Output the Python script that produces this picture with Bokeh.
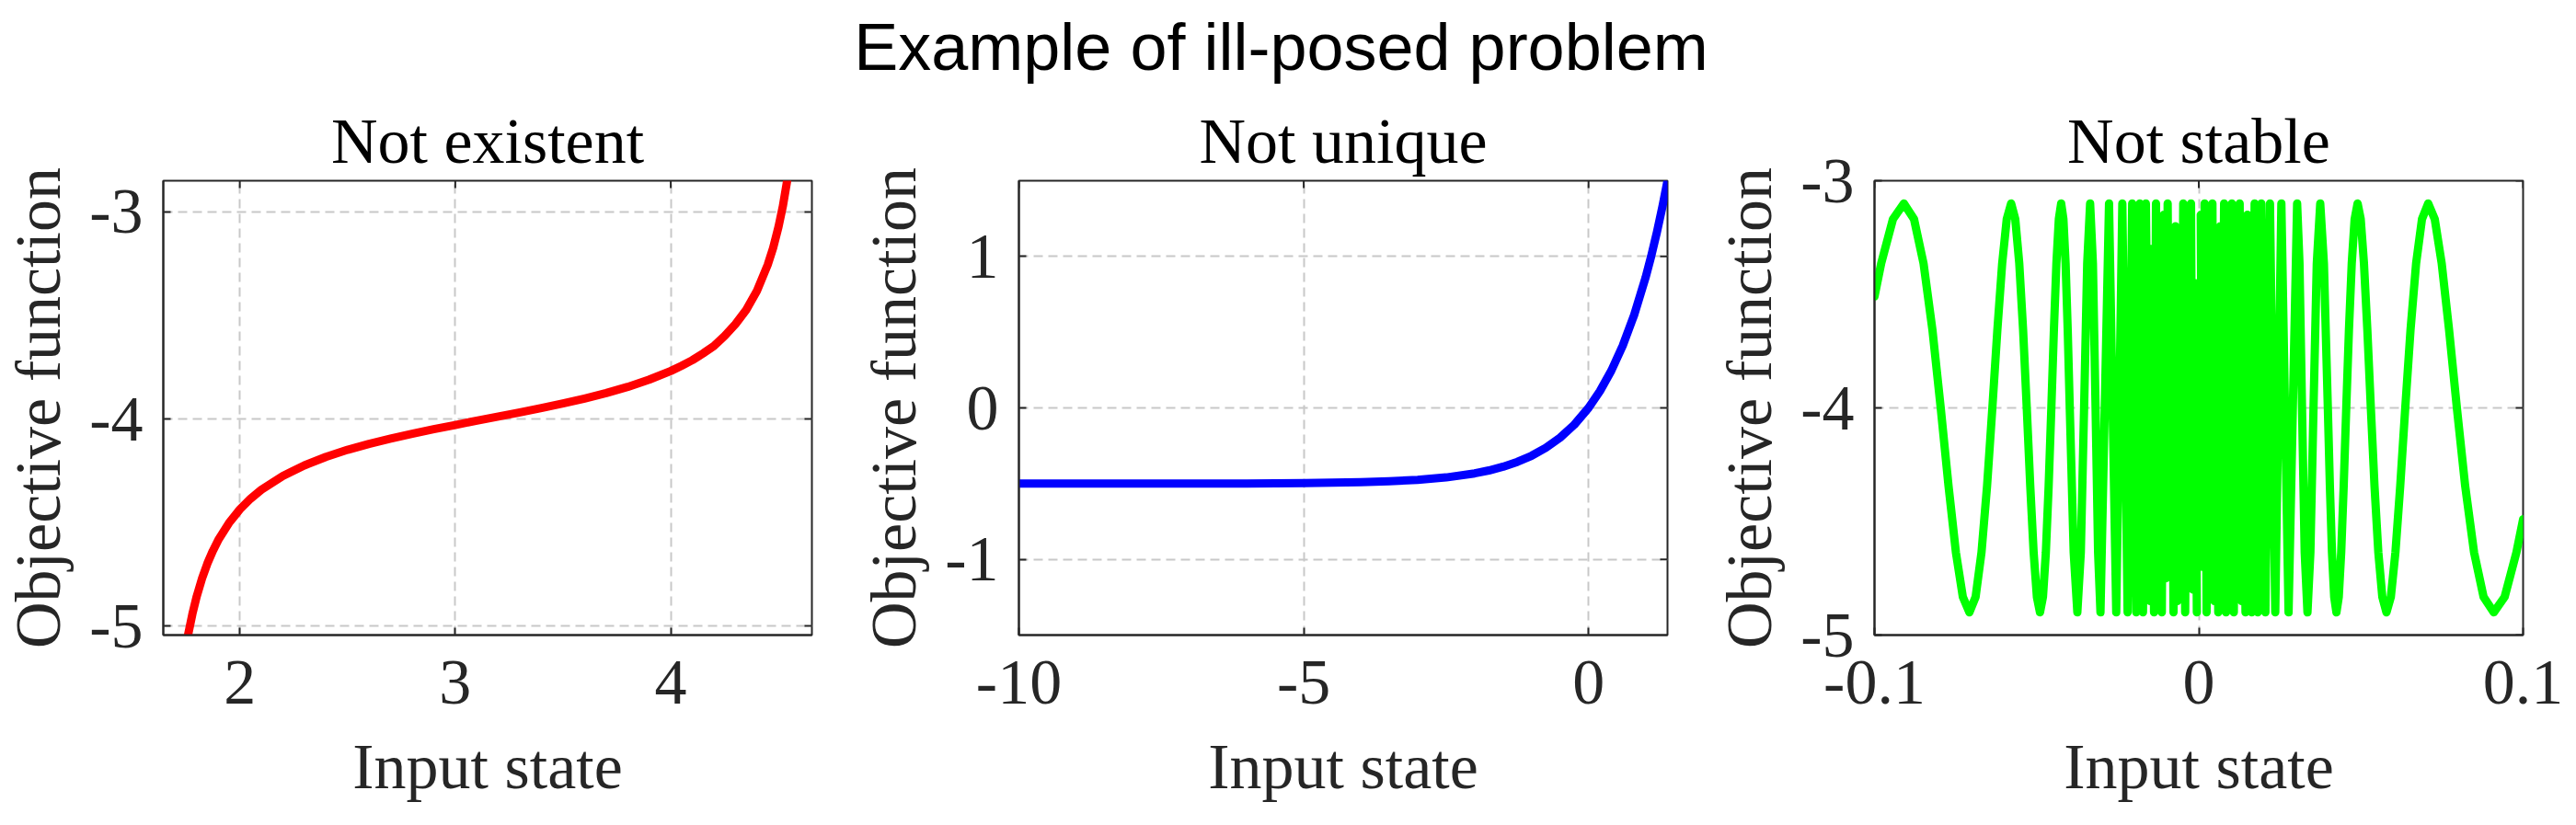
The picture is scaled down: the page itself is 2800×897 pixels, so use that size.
import math
from bokeh.plotting import figure
from bokeh.models import Range1d, FixedTicker, Spacer
from bokeh.layouts import column, row
from bokeh.embed import file_html
from bokeh.resources import INLINE
from bokeh.core.validation import silence
from bokeh.core.validation.warnings import MISSING_RENDERERS

silence(MISSING_RENDERERS, True)

NAN = float("nan")

suptitle = "Example of ill-posed problem"
titles = ["Not existent", "Not unique", "Not stable"]
x_label = "Input state"
y_label = "Objective function"

# Panel 1 (red)
red_x = [1.76, 1.78, 1.80, 1.825, 1.85, 1.875, 1.90, 1.95, 2.0, 2.05, 2.1, 2.2, 2.3, 2.4,
         2.5, 2.6, 2.7, 2.8, 2.9, 3.0, 3.1, 3.2, 3.3, 3.4, 3.5, 3.6, 3.7, 3.8, 3.9, 4.0,
         4.05, 4.1, 4.15, 4.2, 4.25, 4.3, 4.35, 4.4, 4.45, 4.475, 4.5, 4.52, 4.54]
red_y = [-5.043, -4.942, -4.857, -4.770, -4.697, -4.637, -4.585, -4.502, -4.437, -4.385,
         -4.342, -4.275, -4.224, -4.183, -4.149, -4.120, -4.095, -4.071, -4.049, -4.029,
         -4.008, -3.988, -3.968, -3.947, -3.925, -3.901, -3.875, -3.845, -3.810, -3.768,
         -3.743, -3.716, -3.683, -3.648, -3.599, -3.542, -3.473, -3.381, -3.255, -3.174,
         -3.072, -2.973, -2.850]

# Panel 2 (blue)
blue_x = [-10, -9, -8, -7, -6, -5, -4, -3.5, -3, -2.5, -2, -1.75, -1.5, -1.25, -1,
          -0.75, -0.5, -0.25, 0, 0.2, 0.4, 0.6, 0.8, 1.0, 1.1, 1.2, 1.3, 1.386]
blue_y = [-0.500, -0.4999, -0.4998, -0.4995, -0.4988, -0.4966, -0.4908, -0.4849, -0.4751,
          -0.4590, -0.4323, -0.4131, -0.3884, -0.3567, -0.3161, -0.2638, -0.1967, -0.1106,
          0.0, 0.1107, 0.2459, 0.4111, 0.6128, 0.8591, 1.0021, 1.1601, 1.3346, 1.4994]

# Panel 3 (green), read left to right
green_x_left = [-0.1, -0.09794, -0.09431, -0.09095, -0.08781, -0.08488, -0.08214, -0.07958,
                -0.07717, -0.07490, -0.07276, -0.07074, -0.06882, -0.06701, -0.06529,
                -0.06366, -0.06211, -0.06063, -0.05922, -0.05787, -0.05659, -0.05536,
                -0.05418, -0.05305, -0.05197, -0.05093, -0.04993, -0.04897, -0.04805,
                -0.04716, -0.04630, -0.04547, -0.04468, -0.04391, -0.04316, -0.04244,
                -0.04175, -0.04107, -0.04042, -0.03979, -0.03858, -0.03745, -0.03638,
                -0.03537, -0.03441, -0.03351, -0.03265, -0.03183, -0.03105, -0.03032,
                -0.02768, -0.02546, -0.02358, -0.02195, -0.02054, -0.01929, -0.01819,
                -0.01721, -0.01632]
green_y_left = [-3.510, -3.364, -3.169, -3.100, -3.169, -3.364, -3.656, -4.000, -4.344,
                -4.636, -4.832, -4.900, -4.832, -4.636, -4.344, -4.000, -3.656, -3.364,
                -3.169, -3.100, -3.169, -3.364, -3.656, -4.000, -4.344, -4.636, -4.832,
                -4.900, -4.832, -4.636, -4.344, -4.000, -3.656, -3.364, -3.169, -3.100,
                -3.169, -3.364, -3.656, -4.000, -4.636, -4.900, -4.636, -4.000, -3.364,
                -3.100, -3.364, -4.000, -4.636, -4.900, -3.100, -4.900, -3.100, -4.900,
                -3.100, -4.900, -3.100, -4.900, -3.100]
green_x_mid = [-0.0150, -0.0144, -0.0138, -0.0132, -0.0126, -0.0120, -0.0114, -0.0108,
               -0.0102, -0.0096, -0.0090, -0.0084, -0.0078, -0.0072, -0.0066, -0.0060,
               -0.0054, -0.0048, -0.0042, -0.0036, -0.0030, -0.0024, -0.0018, -0.0012,
               -0.0006, 0.0, 0.0006, 0.0012, 0.0018, 0.0024, 0.0030, 0.0036, 0.0042,
               0.0048, 0.0054, 0.0060, 0.0066, 0.0072, 0.0078, 0.0084, 0.0090, 0.0096,
               0.0102, 0.0108, 0.0114, 0.0120, 0.0126, 0.0132, 0.0138, 0.0144, 0.0150]
green_y_mid = [-4.85, -3.30, -4.90, -3.10, -4.60, -3.50, -4.90, -3.15, -4.75, -3.10, -4.45,
               -3.40, -4.90, -3.20, -4.85, -3.60, -4.65, -3.10, -4.90, -3.35, -4.50, -3.10,
               -4.80, -3.45, -4.90, NAN,
               -3.15, -4.70, -3.10, -4.90, -3.55, -4.60, -3.10, -4.85, -3.30, -4.90, -3.20,
               -4.45, -3.10, -4.90, -3.40, -4.75, -3.10, -4.90, -3.25, -4.60, -3.10, -4.85,
               -3.50, -4.90, -3.15]
green_x_right = [0.01632, 0.01721, 0.01819, 0.01929, 0.02054, 0.02195, 0.02358, 0.02546,
                 0.02768, 0.03032, 0.03105, 0.03183, 0.03265, 0.03351, 0.03441, 0.03537,
                 0.03638, 0.03745, 0.03858, 0.03979, 0.04042, 0.04107, 0.04175, 0.04244,
                 0.04316, 0.04391, 0.04468, 0.04547, 0.04630, 0.04716, 0.04805, 0.04897,
                 0.04993, 0.05093, 0.05197, 0.05305, 0.05418, 0.05536, 0.05659, 0.05787,
                 0.05922, 0.06063, 0.06211, 0.06366, 0.06529, 0.06701, 0.06882, 0.07074,
                 0.07276, 0.07490, 0.07717, 0.07958, 0.08214, 0.08488, 0.08781, 0.09095,
                 0.09431, 0.09794, 0.1]
green_y_right = [-4.900, -3.100, -4.900, -3.100, -4.900, -3.100, -4.900, -3.100, -4.900,
                 -3.100, -3.364, -4.000, -4.636, -4.900, -4.636, -4.000, -3.364, -3.100,
                 -3.364, -4.000, -4.344, -4.636, -4.832, -4.900, -4.832, -4.636, -4.344,
                 -4.000, -3.656, -3.364, -3.169, -3.100, -3.169, -3.364, -3.656, -4.000,
                 -4.344, -4.636, -4.832, -4.900, -4.832, -4.636, -4.344, -4.000, -3.656,
                 -3.364, -3.169, -3.100, -3.169, -3.364, -3.656, -4.000, -4.344, -4.636,
                 -4.832, -4.900, -4.832, -4.636, -4.490]

green_x = green_x_left + green_x_mid + green_x_right
green_y = green_y_left + green_y_mid + green_y_right

# Ticks
p1_xticks, p1_xlabels = [2, 3, 4], ["2", "3", "4"]
p1_yticks, p1_ylabels = [-5, -4, -3], ["-5", "-4", "-3"]
p2_xticks, p2_xlabels = [-10, -5, 0], ["-10", "-5", "0"]
p2_yticks, p2_ylabels = [-1, 0, 1], ["-1", "0", "1"]
p3_xticks, p3_xlabels = [-0.1, 0, 0.1], ["-0.1", "0", "0.1"]
p3_yticks, p3_ylabels = [-5, -4, -3], ["-5", "-4", "-3"]

SERIF = "Liberation Serif"
SANS = "Liberation Sans"
AX = "#262626"
FS = "70px"
TICK_LEN = 8


def style_axis(ax, ticks, labels):
    ax.ticker = FixedTicker(ticks=ticks)
    ax.major_label_overrides = {t: l for t, l in zip(ticks, labels)}
    ax.minor_tick_line_color = None
    ax.major_tick_in = TICK_LEN
    ax.major_tick_out = 0
    ax.major_tick_line_color = AX
    ax.major_tick_line_width = 2
    ax.axis_line_color = AX
    ax.axis_line_width = 2
    ax.major_label_text_font = SERIF
    ax.major_label_text_color = AX
    ax.major_label_text_font_size = FS
    ax.axis_label_text_font = SERIF
    ax.axis_label_text_font_size = FS
    ax.axis_label_text_font_style = "normal"
    ax.axis_label_text_color = AX


def panel(title, xs, ys, color, xr, yr, xt, xl, yt, yl):
    p = figure(frame_width=705, frame_height=494, x_range=Range1d(*xr), y_range=Range1d(*yr),
               toolbar_location=None, output_backend="svg", title=title,
               min_border_left=175, min_border_right=48, min_border_top=100,
               min_border_bottom=195)
    p.grid.grid_line_color = "#c8c8c8"
    p.grid.grid_line_width = 2
    p.grid.grid_line_dash = "10 6"
    p.line(xs, ys, line_color=color, line_width=9, line_join="round", line_cap="round")
    # mirrored inward ticks on the top and right edges
    p.ray(x=xt, y=[yr[1]] * len(xt), length=TICK_LEN, length_units="screen",
          angle=-math.pi / 2, line_color=AX, line_width=2)
    p.ray(x=[xr[1]] * len(yt), y=yt, length=TICK_LEN, length_units="screen",
          angle=math.pi, line_color=AX, line_width=2)
    p.title.text_font = SERIF
    p.title.text_font_size = FS
    p.title.text_font_style = "normal"
    p.title.text_color = "#000000"
    p.title.align = "center"
    p.title.standoff = 9
    style_axis(p.xaxis[0], xt, xl)
    style_axis(p.yaxis[0], yt, yl)
    p.xaxis.major_label_standoff = 28
    p.yaxis.major_label_standoff = 22
    p.xaxis.axis_label = x_label
    p.yaxis.axis_label = y_label
    p.xaxis.axis_label_standoff = 27
    p.yaxis.axis_label_standoff = 14
    p.outline_line_color = AX
    p.outline_line_width = 2
    p.outline_line_alpha = 1
    p.background_fill_color = "white"
    p.border_fill_color = "white"
    return p


p1 = panel(titles[0], red_x, red_y, "#ff0000", (1.645, 4.655), (-5.044, -2.849),
           p1_xticks, p1_xlabels, p1_yticks, p1_ylabels)
p2 = panel(titles[1], blue_x, blue_y, "#0000ff", (-10, 1.386), (-1.5, 1.5),
           p2_xticks, p2_xlabels, p2_yticks, p2_ylabels)
p3 = panel(titles[2], green_x, green_y, "#00ff00", (-0.1, 0.1), (-5, -3),
           p3_xticks, p3_xlabels, p3_yticks, p3_ylabels)

head = figure(width=2784, height=88, x_range=Range1d(0, 1), y_range=Range1d(0, 1),
              toolbar_location=None, output_backend="svg", min_border=0,
              x_axis_location=None, y_axis_location=None, title=suptitle)
head.outline_line_color = None
head.grid.visible = False
head.title.text_font = SANS
head.title.text_font_size = "72px"
head.title.text_font_style = "normal"
head.title.text_color = "#000000"
head.title.align = "center"
head.title.standoff = 0

layout = column(Spacer(width=2784, height=8), head, row(p1, p2, p3, spacing=0), spacing=0)
open("out.html", "w").write(file_html(layout, INLINE))
